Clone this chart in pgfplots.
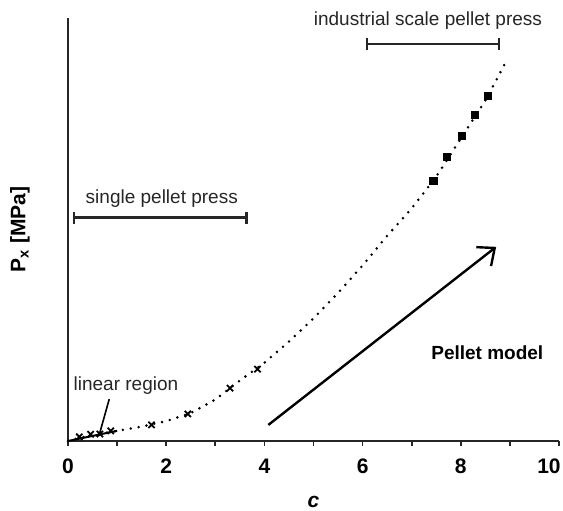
\documentclass[border=0pt]{standalone}
\usepackage{pgfplots}
\pgfplotsset{compat=1.18}
\usepackage{fontspec}
\setmainfont{Liberation Sans}
\usetikzlibrary{arrows.meta}
\begin{document}
\begin{tikzpicture}[font=\fontsize{9.5}{11}\selectfont]
\useasboundingbox (-34pt,-34.5pt) rectangle (247.5pt,220.5pt);
\begin{axis}[at={(0,0)}, anchor=south west, scale only axis,
  width=245.5pt, height=211.5pt,
  xmin=0, xmax=10, ymin=0, ymax=100,
  axis x line*=bottom, axis y line*=left,
  axis line style={line width=1.2pt, black!85},
  xtick={0,1,...,10}, xticklabels={0,,2,,4,,6,,8,,\hspace*{-10pt}10},
  ytick=\empty,
  tick align=outside, major tick length=2.5pt,
  tick style={line width=0.8pt, black!85},
  xticklabel style={font=\bfseries\fontsize{10.5}{12}\selectfont, yshift=-3pt},
  xlabel={\bfseries\itshape c},
  xlabel style={font=\fontsize{10.5}{12}\selectfont, at={(axis description cs:0.5,-0.144)}, anchor=center},
  ylabel={\bfseries P\textsubscript{x} [MPa]},
  ylabel style={font=\fontsize{10.5}{12}\selectfont, at={(axis description cs:-0.098,0.5)}, anchor=center},
  clip=false,
]
\addplot[black, line width=1.4pt, line cap=round, dash pattern=on 0pt off 4pt] coordinates {
(0,0) (0.25,0.8) (0.5,1.4) (0.75,1.9) (1.0,2.4) (1.5,3.4) (2.0,4.7) (2.5,6.6)
(3.0,9.8) (3.5,14.3) (4.0,18.5) (4.5,23.5) (5.0,29) (5.5,35) (6.0,41.5)
(6.5,48.5) (7.0,55) (7.5,62.5) (8.0,71.5) (8.5,80.5) (8.95,90.3)};
\addplot[black, line width=1pt] coordinates {(0,0) (1.0,2.4)};
\addplot[only marks, mark=x, mark size=2.2pt, mark options={line width=0.9pt, black}] coordinates {
(0.23,1.0) (0.46,1.6) (0.65,1.65) (0.87,2.4) (1.70,3.8) (2.44,6.4) (3.30,12.5) (3.86,17.0)};
\addplot[only marks, mark=square*, mark size=1.8pt, mark options={black}] coordinates {
(7.44,61.5) (7.71,67.2) (8.03,72.2) (8.29,77.1) (8.55,81.6)};
\draw[line width=1.2pt, black!85, {Bar[width=6pt]}-{Bar[width=6pt]}] (axis cs:0.1,52.8) -- (axis cs:3.66,52.8);
\node[black!85] at (axis cs:1.91,57.2) {single pellet press};
\draw[line width=1.2pt, black!85, {Bar[width=6pt]}-{Bar[width=6pt]}] (axis cs:6.07,93.9) -- (axis cs:8.80,93.9);
\node[black!85] at (axis cs:7.33,99.5) {industrial scale pellet press};
\draw[line width=1.2pt, -{Straight Barb[length=7pt,width=12pt]}] (axis cs:4.08,3.8) -- (axis cs:8.72,45.9);
\node[font=\bfseries\fontsize{9.5}{11}\selectfont] at (axis cs:8.54,20.8) {Pellet model};
\node[black!85] at (axis cs:1.18,13.2) {linear region};
\draw[line width=0.8pt] (axis cs:0.84,9.9) -- (axis cs:0.63,1.2);
\end{axis}
\end{tikzpicture}
\end{document}
